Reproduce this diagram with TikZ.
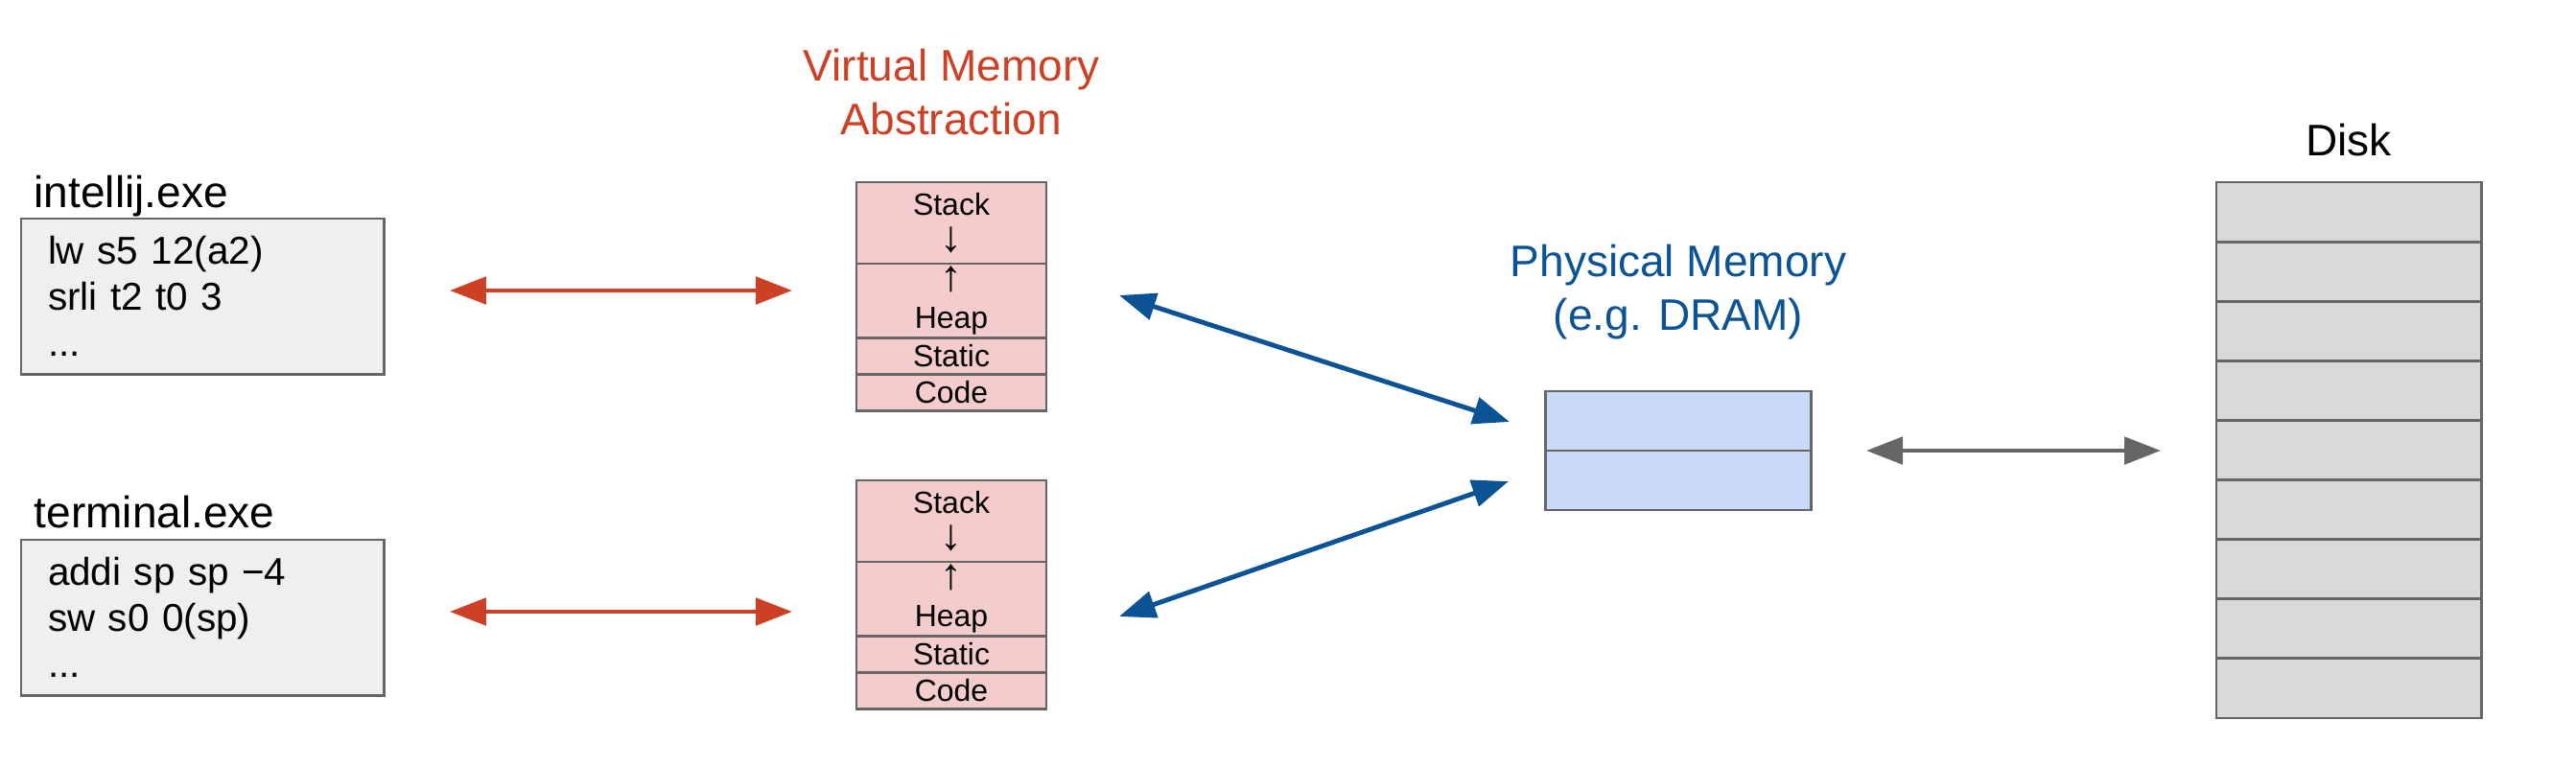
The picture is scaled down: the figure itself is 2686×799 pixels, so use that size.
\documentclass[tikz,border=0pt]{standalone}
\usepackage{fontspec}
\setmainfont{Liberation Sans}
\usetikzlibrary{positioning,arrows.meta}
\definecolor{vmred}{HTML}{CC4125}
\definecolor{pmblue}{HTML}{0B5394}
\definecolor{edgegray}{HTML}{666666}
\definecolor{codefill}{HTML}{EFEFEF}
\definecolor{stackfill}{HTML}{F4CCCC}
\definecolor{dramfill}{HTML}{C9DAF8}
\definecolor{diskfill}{HTML}{D9D9D9}
\newcommand{\growarrow}[1]{{\fontsize{13}{11}\selectfont#1}}
\begin{document}
\begin{tikzpicture}[x=0.01cm,y=-0.01cm,>={Triangle[length=10.8pt,width=8pt]},
    box/.style={draw=edgegray,line width=0.8pt,outer sep=0pt,inner sep=0pt},
    prog/.style={box,fill=codefill,minimum width=3.78cm,minimum height=1.62cm,
        text width=3.22cm,inner xsep=0.28cm,align=left,font=\fontsize{11.5}{13.7}\selectfont},
    seg/.style={box,fill=stackfill,minimum width=1.98cm,align=center,font=\fontsize{9.1}{11}\selectfont},
    dram/.style={box,fill=dramfill,minimum width=2.77cm,minimum height=0.62cm},
    diskcell/.style={box,fill=diskfill,minimum width=2.76cm,minimum height=0.621cm},
    title/.style={inner sep=0pt,align=center,font=\fontsize{13.1}{15.9}\selectfont},
    link/.style={<->,line width=1.4pt}]
\useasboundingbox (0,0) rectangle (2686,799);

\node[prog,anchor=north west] (prog1) at (22,228) {lw s5 12(a2)\\srli t2 t0 3\\...};
\node[title,anchor=base west] (name1) at (35,216) {intellij.exe};
\node[prog,anchor=north west] (prog2) at (22,563) {addi sp sp −4\\sw s0 0(sp)\\...};
\node[title,anchor=base west] (name2) at (35,550) {terminal.exe};

\node[title,text=vmred,anchor=south] (vmlabel) at (992,142) {Virtual Memory\\Abstraction};
\foreach \k/\ytop in {1/190, 2/501}
{
    \node[seg,minimum height=0.85cm,anchor=north] (stack\k) at (992,\ytop) {Stack\\\growarrow{↓}};
    \node[seg,minimum height=0.77cm,below=0pt of stack\k] (heap\k) {\growarrow{↑}\\Heap};
    \node[seg,minimum height=0.38cm,below=0pt of heap\k] (static\k) {Static};
    \node[seg,minimum height=0.38cm,below=0pt of static\k] (code\k) {Code};
}

\node[title,text=pmblue,anchor=south] (pmlabel) at (1750,355) {Physical Memory\\(e.g. DRAM)};
\node[dram,anchor=north] (dram1) at (1750,408) {};
\node[dram,below=0pt of dram1] (dram2) {};

\node[title,anchor=base] (disklabel) at (2449,162) {Disk};
\foreach \i in {1,...,9}
{
    \node[diskcell,anchor=north] (disk\i) at (2449,{190+62.1*(\i-1)}) {};
}

\coordinate (red1a) at (469,303);
\coordinate (red1b) at (826,303);
\coordinate (red2a) at (469,638);
\coordinate (red2b) at (826,638);
\coordinate (blue1a) at (1167,308);
\coordinate (blue1b) at (1574,440);
\coordinate (blue2a) at (1167,643);
\coordinate (blue2b) at (1573,502);
\coordinate (graya) at (1946,470);
\coordinate (grayb) at (2253,470);
\draw[link,vmred] (red1a) -- (red1b);
\draw[link,vmred] (red2a) -- (red2b);
\draw[link,pmblue] (blue1a) -- (blue1b);
\draw[link,pmblue] (blue2a) -- (blue2b);
\draw[link,edgegray] (graya) -- (grayb);
\end{tikzpicture}
\end{document}
